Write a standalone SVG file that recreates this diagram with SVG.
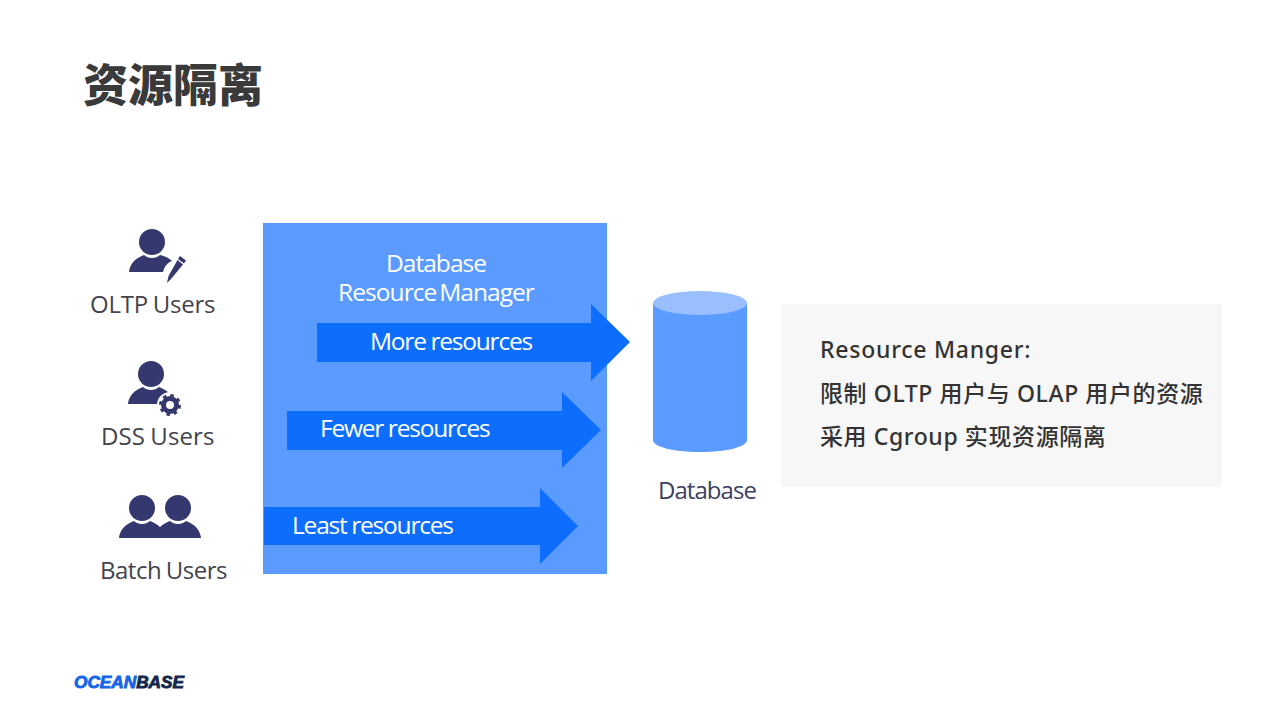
<svg xmlns="http://www.w3.org/2000/svg" width="1280" height="720" viewBox="0 0 1280 720">
<style>
.label{font-family:"Open Sans","Noto Sans",sans-serif;font-size:24px;fill:#44444c;letter-spacing:-0.45px;word-spacing:-1px}
.inner{font-family:"Open Sans","Noto Sans",sans-serif;font-size:24.5px;fill:#fff;letter-spacing:-0.95px;word-spacing:-2.5px}
.flow-text{letter-spacing:-1.2px;word-spacing:-.5px}
.note{font-family:"Noto Sans","Noto Sans CJK SC",sans-serif;font-size:23px;font-weight:500;fill:#333;letter-spacing:.6px}
.flow{fill:#0d6efd}
.ink{fill:#34386e}
</style>
<defs>
<g id="person"><circle cx="0" cy="-30" r="13"/><path d="M-23 0C-22 -9 -16 -14 -8 -17C-4 -13 4 -13 8 -17C16 -14 22 -9 23 0Z"/></g>
</defs>
<rect width="1280" height="720" fill="#fff"/>
<text x="83" y="102" font-family="'Noto Sans CJK SC',sans-serif" font-size="45" font-weight="900" fill="#3a3a3a">资源隔离</text>
<g id="oltp-users">
<g class="ink"><circle cx="152" cy="242" r="13"/>
<path d="M129 272C130 263 136 258 144 255C148 259 156 259 160 255C165 256 169 258 172 261C167 263 164 267 163 272Z"/>
<path d="M180 256L186 260.500L184 263.500L178 259Z"/>
<path d="M177.500 260L183 264.500L171 279L167 283L168.500 276Z"/></g>
<text x="90" y="313" class="label" style="letter-spacing:-.25px">OLTP Users</text></g>
<g id="dss-users"><use href="#person" x="151" y="404" class="ink"/>
<circle cx="170" cy="405" r="13" fill="#fff"/><circle cx="170" cy="405" r="6.500" fill="none" stroke="#34386e" stroke-width="5"/>
<circle cx="170" cy="405" r="9.500" fill="none" stroke="#34386e" stroke-width="3" stroke-dasharray="3.500 3.960"/>
<text x="101" y="445" class="label" style="letter-spacing:.1px">DSS Users</text></g>
<g id="batch-users"><use href="#person" x="142" y="538" class="ink"/><use href="#person" x="178" y="538" class="ink"/>
<text x="100" y="579" class="label" style="letter-spacing:-.5px">Batch Users</text></g>
<g id="resource-manager"><rect x="263" y="223" width="344" height="351" fill="#5b9bff"/>
<text x="436" y="272" text-anchor="middle" class="inner">Database</text>
<text x="436" y="301" text-anchor="middle" class="inner">Resource Manager</text></g>
<g id="connectors">
<path class="flow" d="M317 323H591V304L630 342L591 381V362H317Z"/>
<path class="flow" d="M287 411H562V392L601 430L562 468V450H287Z"/>
<path class="flow" d="M264 507H540V488L578 526L540 564V545H264Z"/>
<text x="370" y="350" class="inner flow-text">More resources</text>
<text x="320" y="437" class="inner flow-text">Fewer resources</text>
<text x="292" y="534" class="inner flow-text">Least resources</text>
</g>
<g id="database"><path d="M653 303V440C653 447 674 452 700 452C726 452 747 447 747 440V303Z" fill="#5b9bff"/>
<ellipse cx="700" cy="303" rx="47" ry="12" fill="#99bfff"/>
<text x="658" y="499" class="label" style="fill:#3c3f5f;letter-spacing:-.95px">Database</text></g>
<g id="note"><rect x="781" y="304" width="441" height="183" fill="#f7f7f7"/>
<text x="820" y="358" class="note" style="letter-spacing:.75px">Resource Manger:</text>
<text x="820" y="402" class="note">限制 OLTP 用户与 OLAP 用户的资源</text>
<text x="820" y="445" class="note">采用 Cgroup 实现资源隔离</text></g>
<g id="logo"><text x="74" y="688" font-family="'Liberation Sans',sans-serif" font-size="16" font-weight="700" font-style="italic" stroke-width=".8" textLength="110" lengthAdjust="spacingAndGlyphs"><tspan fill="#1565e8" stroke="#1565e8">OCEAN</tspan><tspan fill="#14264a" stroke="#14264a">BASE</tspan></text></g>
</svg>
